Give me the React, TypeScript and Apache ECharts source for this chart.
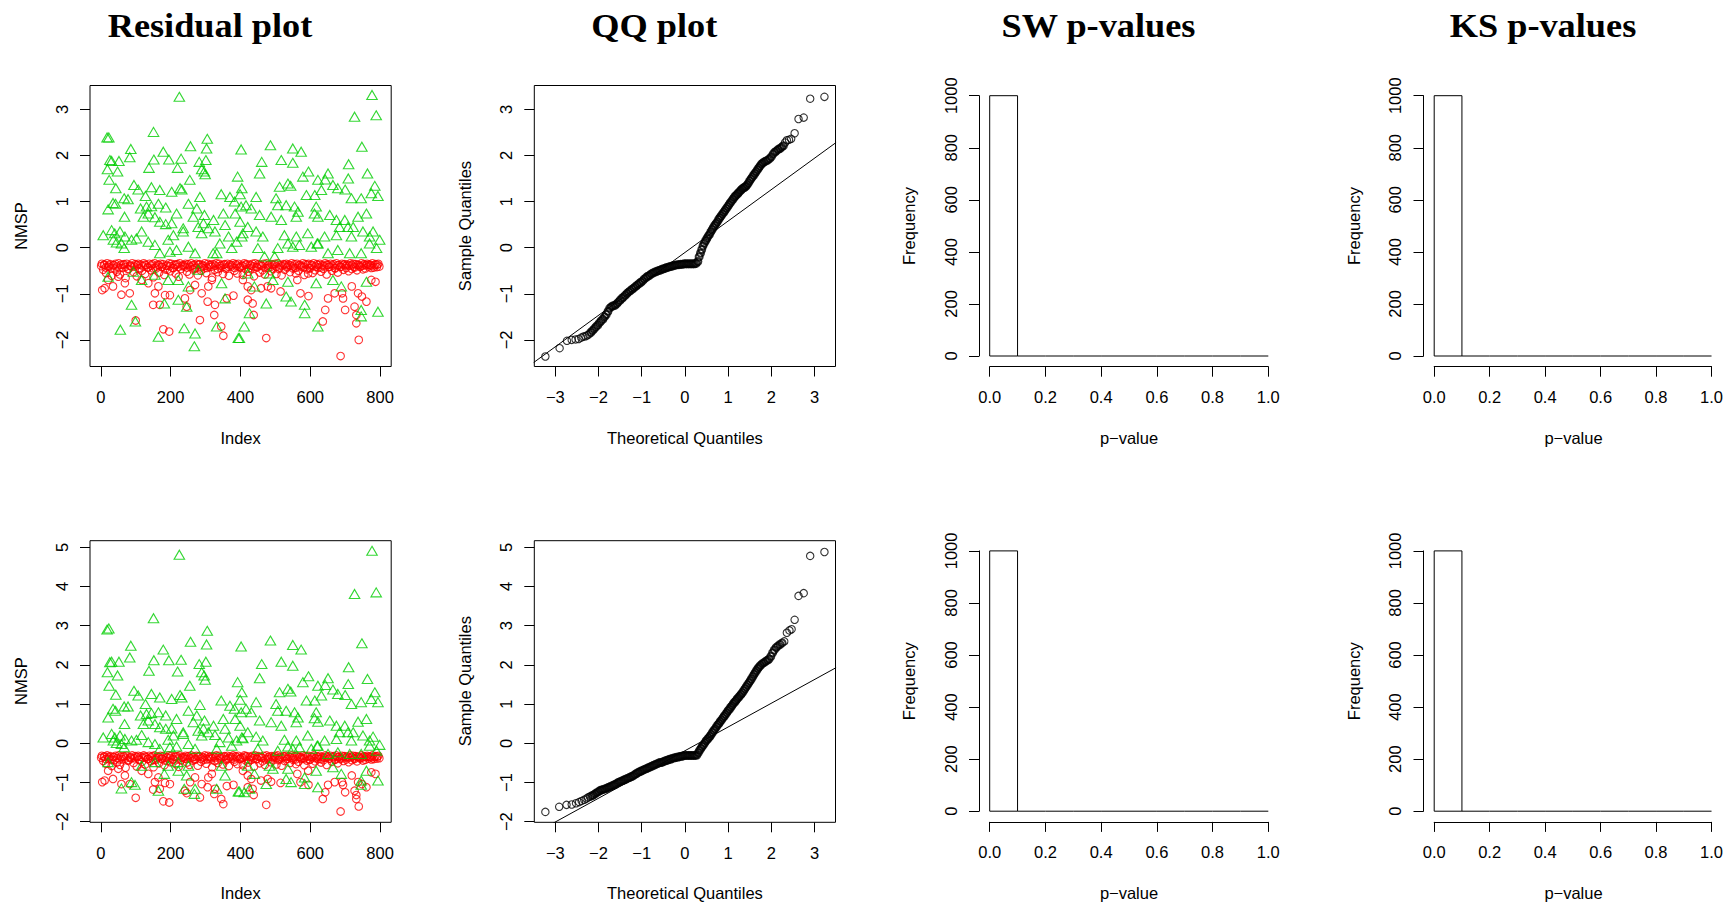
import React, { useEffect, useRef } from "react";
import * as echarts from "echarts";

const W = 1726;
const H = 904;

// ---------- Residual plot (top row) ----------
const greenTop: number[][] = [
  [225,3.27],[18,2.39],[23,2.39],[151,2.51],[86,2.14],[179,2.08],[257,2.2],[305,2.36],[303,2.15],[83,1.96],
  [26,1.9],[31,1.88],[52,1.88],[152,1.91],[195,1.91],[230,1.93],[282,1.86],[301,1.9],[138,1.73],[220,1.73],
  [289,1.7],[296,1.65],[299,1.59],[19,1.7],[48,1.65],[24,1.47],[255,1.47],[43,1.29],[95,1.36],[107,1.26],
  [145,1.31],[169,1.25],[203,1.21],[227,1.29],[232,1.26],[284,1.1],[345,1.16],[370,1.1],[399,1.16],[67,1.07],
  [78,1.05],[128,1.12],[35,0.97],[42,0.95],[21,0.83],[114,0.85],[131,0.89],[145,0.9],[165,0.95],[186,0.87],
  [251,0.95],[275,0.85],[297,0.71],[383,1.0],[217,0.74],[68,0.67],[122,0.67],[136,0.74],[155,0.66],[169,0.56],
  [186,0.51],[203,0.53],[236,0.42],[265,0.67],[279,0.45],[294,0.53],[323,0.6],[351,0.74],[356,0.49],[385,0.74],
  [399,0.56],[7,0.27],[31,0.38],[40,0.31],[55,0.35],[69,0.24],[88,0.17],[102,0.2],[117,0.35],[136,0.13],
  [155,0.06],[36,0.17],[45,0.11],[59,0.09],[67,-0.01],[169,-0.12],[198,-0.09],[217,-0.05],[193,0.17],[208,0.27],
  [236,0.35],[270,-0.12],[289,0.31],[308,0.42],[327,0.35],[332,-0.12],[341,0.09],[366,0.24],[375,-0.01],[389,0.13],
  [404,0.24],[251,0.02],[21,-0.63],[88,-1.24],[99,-1.6],[56,-1.78],[165,-1.93],[268,-2.14],[239,-1.75],[270,-1.86],
  [182,-1.21],[222,-1.13],[246,-1.28],[222,-0.7],[251,-0.84],[117,-0.7],[155,-0.59],[193,-0.7],[346,-0.77],[356,-1.1],
  [332,-1.71],[394,-1.96],[93,-0.52],[279,-0.48],[322,-0.12],
  [777,3.31],[727,2.84],[789,2.87],[486,2.22],[402,2.13],[550,2.15],[574,2.08],[748,2.19],[461,1.86],[517,1.9],
  [550,1.84],[455,1.61],[710,1.81],[764,1.61],[595,1.65],[651,1.61],[579,1.54],[709,1.5],[785,1.34],[794,1.12],
  [512,1.32],[536,1.39],[544,1.34],[622,1.47],[643,1.48],[665,1.36],[679,1.29],[589,1.14],[613,1.14],[632,1.25],
  [700,1.26],[718,1.07],[746,1.07],[775,1.18],[404,1.29],[392,1.54],[416,0.92],[431,0.85],[445,1.1],[502,1.07],
  [507,0.92],[531,0.92],[555,0.89],[565,0.78],[560,0.67],[617,0.89],[612,0.74],[622,0.67],[656,0.71],[675,0.6],
  [699,0.6],[708,0.45],[737,0.67],[761,0.74],[455,0.71],[488,0.67],[517,0.6],[402,0.89],[421,0.45],[407,0.31],
  [445,0.35],[464,0.24],[526,0.27],[536,0.09],[560,0.24],[569,0.06],[593,0.31],[620,0.09],[641,0.24],[684,0.45],
  [675,0.27],[718,0.24],[723,0.45],[751,0.35],[770,0.24],[780,0.35],[799,0.17],[790,-0.01],[450,-0.01],[507,-0.01],
  [550,0.02],[603,0.02],[622,0.09],[651,-0.12],[679,-0.05],[713,-0.12],[746,-0.12],[770,0.09],[469,-0.19],[498,-0.19],
  [421,-0.56],[440,-0.84],[474,-1.21],[426,-1.42],[411,-1.71],[536,-0.74],[531,-1.06],[545,-1.17],[584,-1.24],[584,-1.42],
  [617,-0.77],[622,-1.71],[665,-0.7],[689,-0.84],[746,-1.35],[746,-1.49],[794,-1.39],[761,-0.74],[397,-1.96],[483,-0.56],
  [493,-0.7]
];

const redTopOut: number[][] = [
  [4,-0.92],[11,-0.88],[35,-0.84],[59,-1.02],[83,-0.99],[150,-1.24],[169,-1.24],[155,-0.99],[184,-1.03],[198,-1.03],
  [165,-0.84],[241,-1.1],[246,-1.28],[256,-0.92],[270,-0.81],[289,-0.99],[306,-1.17],[327,-1.24],[325,-1.46],[284,-1.57],
  [100,-1.58],[179,-1.77],[196,-1.82],[345,-1.71],[351,-1.91],[380,-1.04],[361,-1.1],[318,-0.7],[308,-0.84],[136,-0.77],
  [117,-0.7],[69,-0.77],[21,-0.7],[50,-0.63],[474,-1.96],[687,-2.35],[739,-2.0],[421,-1.13],[435,-1.21],[438,-1.46],
  [459,-0.88],[478,-0.84],[488,-0.88],[515,-0.95],[563,-0.7],[594,-0.56],[572,-0.99],[595,-1.05],[636,-1.6],[643,-1.35],
  [651,-1.1],[670,-0.99],[691,-0.99],[694,-1.1],[700,-1.35],[732,-1.46],[732,-1.64],[727,-1.28],[719,-0.84],[737,-0.99],
  [748,-1.06],[761,-1.17],[775,-0.7],[787,-0.74],[407,-0.7],[421,-0.84],[431,-0.92]
];

// indices of the dense band of red circles (three rows)
const bandIdxA = [
  3,11,18,27,35,42,51,58,67,74, 83,90,99,107,114,123,130,139,147,154,
  163,171,178,187,195,202,211,219,226,235, 243,250,259,267,274,283,291,298,307,315,
  322,331,339,346,355,363,370,379,387,394, 403,411,418,427,435,442,451,459,466,475,
  483,490,499,507,514,523,531,538,547,555, 562,571,579,586,595,603,610,619,627,634,
  643,651,658,667,675,682,691,699,706,715, 723,730,739,747,754,763,771,778,787,795
];
const bandIdxB = [
  7,15,22,31,39,46,55,62,71,78, 87,94,103,111,118,127,134,143,151,158,
  167,175,182,191,199,206,215,223,230,239, 247,254,263,271,278,287,295,302,311,319,
  326,335,343,350,359,367,374,383,391,398, 407,415,422,431,439,446,455,463,470,479,
  487,494,503,511,518,527,535,542,551,559, 566,575,583,590,599,607,614,623,631,638,
  647,655,662,671,679,686,695,703,710,719, 727,734,743,751,758,767,775,782,791,798
];
const bandIdxC = [
  1,9,14,24,31,38,47,54,64,70, 80,86,96,104,110,120,127,135,144,150,
  160,167,175,184,191,198,208,215,222,232, 240,246,256,263,270,280,287,294,304,311,
  318,328,335,342,352,359,366,376,383,390, 400,407,414,424,431,438,448,455,462,472,
  479,486,496,503,510,520,527,534,544,551, 558,568,575,582,592,599,606,616,623,630,
  640,647,654,664,671,678,688,695,702,712, 719,726,736,743,750,760,767,774,784,792
];
const bandTopA = [
  -0.35,-0.37,-0.34,-0.36,-0.38,-0.35,-0.34,-0.37,-0.36,-0.35,
  -0.39,-0.34,-0.36,-0.35,-0.37,-0.34,-0.38,-0.35,-0.36,-0.34,
  -0.37,-0.35,-0.36,-0.39,-0.34,-0.35,-0.37,-0.36,-0.34,-0.38,
  -0.35,-0.36,-0.34,-0.37,-0.35,-0.36,-0.38,-0.34,-0.35,-0.37,
  -0.36,-0.34,-0.35,-0.38,-0.36,-0.35,-0.37,-0.34,-0.36,-0.35,
  -0.39,-0.34,-0.36,-0.37,-0.35,-0.34,-0.36,-0.38,-0.35,-0.34,
  -0.37,-0.36,-0.35,-0.34,-0.38,-0.36,-0.35,-0.37,-0.34,-0.36,
  -0.35,-0.38,-0.34,-0.36,-0.35,-0.37,-0.34,-0.36,-0.35,-0.38,
  -0.34,-0.37,-0.35,-0.36,-0.34,-0.38,-0.35,-0.36,-0.37,-0.34,
  -0.35,-0.36,-0.38,-0.34,-0.36,-0.35,-0.37,-0.34,-0.36,-0.35
];
const bandTopB = [
  -0.48,-0.55,-0.42,-0.61,-0.45,-0.52,-0.58,-0.44,-0.66,-0.47,
  -0.41,-0.53,-0.62,-0.46,-0.5,-0.57,-0.43,-0.49,-0.64,-0.45,
  -0.54,-0.42,-0.59,-0.48,-0.51,-0.44,-0.56,-0.63,-0.46,-0.41,
  -0.52,-0.58,-0.47,-0.43,-0.6,-0.5,-0.45,-0.55,-0.42,-0.65,
  -0.48,-0.53,-0.44,-0.57,-0.46,-0.61,-0.41,-0.5,-0.56,-0.43,
  -0.59,-0.47,-0.52,-0.45,-0.62,-0.42,-0.54,-0.49,-0.58,-0.44,
  -0.51,-0.46,-0.57,-0.43,-0.6,-0.48,-0.41,-0.53,-0.45,-0.56,
  -0.5,-0.42,-0.59,-0.47,-0.44,-0.55,-0.49,-0.43,-0.52,-0.46,
  -0.58,-0.41,-0.5,-0.45,-0.54,-0.42,-0.48,-0.44,-0.51,-0.46,
  -0.43,-0.49,-0.42,-0.47,-0.45,-0.41,-0.44,-0.43,-0.42,-0.41
];
const bandTopC = [
  -0.4,-0.37,-0.43,-0.39,-0.45,-0.38,-0.41,-0.44,-0.37,-0.42,
  -0.46,-0.39,-0.41,-0.38,-0.44,-0.4,-0.37,-0.43,-0.39,-0.45,
  -0.41,-0.38,-0.42,-0.47,-0.39,-0.4,-0.44,-0.37,-0.42,-0.4,
  -0.38,-0.43,-0.41,-0.39,-0.45,-0.37,-0.42,-0.4,-0.44,-0.38,
  -0.41,-0.39,-0.46,-0.4,-0.37,-0.43,-0.41,-0.38,-0.44,-0.39,
  -0.42,-0.4,-0.37,-0.45,-0.39,-0.41,-0.43,-0.38,-0.4,-0.44,
  -0.39,-0.42,-0.38,-0.41,-0.46,-0.4,-0.37,-0.43,-0.39,-0.41,
  -0.44,-0.38,-0.4,-0.42,-0.37,-0.45,-0.39,-0.41,-0.38,-0.43,
  -0.4,-0.37,-0.42,-0.39,-0.44,-0.38,-0.41,-0.37,-0.4,-0.39,
  -0.38,-0.41,-0.37,-0.4,-0.39,-0.38,-0.37,-0.39,-0.38,-0.37
];

// ---------- Residual plot (bottom row) ----------
const greenBot: number[][] = [
  [225,4.81],[18,2.9],[23,2.93],[151,3.19],[86,2.49],[83,2.19],[179,2.39],[257,2.59],[305,2.87],[303,2.52],
  [26,2.07],[31,2.08],[52,2.08],[152,2.12],[195,2.12],[230,2.13],[282,2.02],[301,2.08],[138,1.85],[220,1.83],
  [289,1.81],[296,1.73],[299,1.62],[19,1.81],[48,1.73],[24,1.47],[255,1.47],[43,1.24],[95,1.34],[107,1.22],
  [145,1.26],[169,1.17],[203,1.13],[227,1.23],[232,1.17],[284,0.98],[345,1.09],[370,0.96],[399,1.11],[67,0.94],
  [78,0.94],[128,1.0],[35,0.88],[42,0.83],[21,0.66],[114,0.71],[131,0.75],[145,0.77],[165,0.79],[186,0.71],
  [251,0.83],[275,0.71],[297,0.58],[383,0.88],[217,0.62],[68,0.49],[122,0.49],[136,0.58],[155,0.49],[169,0.41],
  [186,0.37],[203,0.38],[236,0.28],[265,0.54],[279,0.32],[294,0.38],[323,0.45],[351,0.62],[356,0.37],[385,0.62],
  [399,0.45],[7,0.15],[31,0.24],[40,0.15],[55,0.2],[69,0.11],[88,0.07],[102,0.09],[117,0.21],[136,0.03],
  [155,-0.02],[36,0.07],[45,0.01],[59,-0.02],[67,-0.1],[169,-0.14],[198,-0.1],[217,-0.08],[193,0.09],[208,0.2],
  [236,0.24],[270,-0.14],[289,0.2],[308,0.28],[327,0.21],[332,-0.14],[341,0.03],[366,0.15],[375,-0.06],[389,0.07],
  [404,0.15],[251,-0.02],[59,-1.15],[98,-1.06],[165,-1.21],[268,-1.29],[239,-1.16],[270,-1.16],[182,-0.78],[222,-0.7],
  [246,-0.82],[117,-0.57],[155,-0.48],[193,-0.57],[222,-0.48],[251,-0.57],[346,-0.57],[356,-0.82],[332,-1.16],[394,-1.23],
  [21,-0.48],[88,-0.99],
  [777,4.91],[727,3.81],[789,3.85],[486,2.62],[402,2.47],[550,2.51],[574,2.39],[748,2.55],[461,2.02],[517,2.08],
  [550,1.98],[455,1.66],[710,1.94],[764,1.64],[595,1.71],[651,1.66],[579,1.56],[709,1.51],[785,1.3],[794,1.05],
  [512,1.3],[536,1.39],[544,1.32],[622,1.47],[643,1.49],[665,1.37],[679,1.26],[589,1.09],[613,1.09],[632,1.22],
  [700,1.23],[718,1.0],[746,1.05],[775,1.13],[404,1.3],[392,1.56],[416,0.88],[431,0.79],[445,1.05],[502,1.0],
  [507,0.83],[531,0.83],[555,0.79],[565,0.66],[560,0.54],[617,0.79],[612,0.64],[622,0.55],[656,0.58],[675,0.45],
  [699,0.45],[708,0.28],[737,0.55],[761,0.62],[455,0.58],[488,0.54],[517,0.45],[402,0.79],[421,0.28],[407,0.13],
  [445,0.17],[464,0.07],[526,0.09],[536,-0.08],[560,0.07],[569,-0.1],[593,0.2],[620,-0.06],[641,0.07],[684,0.28],
  [675,0.11],[718,0.07],[723,0.28],[751,0.2],[770,0.07],[780,0.17],[799,-0.04],[790,-0.19],[450,-0.14],[507,-0.19],
  [550,-0.14],[603,-0.14],[622,-0.06],[651,-0.27],[679,-0.23],[713,-0.27],[746,-0.27],[770,-0.06],
  [421,-0.57],[440,-0.78],[474,-1.04],[426,-1.16],[411,-1.25],[536,-0.65],[531,-0.91],[545,-0.99],[584,-0.87],[584,-1.04],
  [617,-0.7],[622,-1.12],[665,-0.61],[689,-0.78],[746,-0.95],[746,-1.06],[794,-0.95],[761,-0.7],[397,-1.23],[483,-0.57],
  [493,-0.65]
];

const redBotOut: number[][] = [
  [4,-0.99],[11,-0.95],[35,-0.91],[59,-1.04],[83,-1.04],[150,-1.18],[169,-1.16],[155,-0.99],[184,-1.01],[198,-1.04],
  [165,-0.87],[241,-1.21],[246,-1.27],[256,-0.99],[270,-0.87],[289,-1.04],[306,-1.12],[327,-1.16],[325,-1.29],[284,-1.38],
  [100,-1.39],[179,-1.48],[196,-1.51],[345,-1.42],[351,-1.55],[380,-1.06],[361,-1.09],[318,-0.78],[308,-0.87],[136,-0.78],
  [117,-0.7],[69,-0.82],[21,-0.7],[50,-0.65],[474,-1.57],[687,-1.74],[739,-1.61],[421,-1.12],[435,-1.16],[438,-1.32],
  [459,-0.95],[478,-0.91],[488,-0.98],[515,-1.01],[563,-0.78],[594,-0.7],[572,-0.99],[595,-1.06],[636,-1.42],[643,-1.25],
  [651,-1.06],[670,-0.99],[691,-0.99],[694,-1.06],[700,-1.25],[732,-1.32],[732,-1.42],[727,-1.21],[719,-0.82],[737,-0.99],
  [748,-1.04],[761,-1.12],[775,-0.74],[787,-0.78],[407,-0.7],[421,-0.82],[431,-0.91]
];
const bandBotA = [
  -0.32,-0.34,-0.31,-0.33,-0.35,-0.32,-0.31,-0.34,-0.33,-0.32,
  -0.36,-0.31,-0.33,-0.32,-0.34,-0.31,-0.35,-0.32,-0.33,-0.31,
  -0.34,-0.32,-0.33,-0.36,-0.31,-0.32,-0.34,-0.33,-0.31,-0.35,
  -0.32,-0.33,-0.31,-0.34,-0.32,-0.33,-0.35,-0.31,-0.32,-0.34,
  -0.33,-0.31,-0.32,-0.35,-0.33,-0.32,-0.34,-0.31,-0.33,-0.32,
  -0.36,-0.31,-0.33,-0.34,-0.32,-0.31,-0.33,-0.35,-0.32,-0.31,
  -0.34,-0.33,-0.32,-0.31,-0.35,-0.33,-0.32,-0.34,-0.31,-0.33,
  -0.32,-0.35,-0.31,-0.33,-0.32,-0.34,-0.31,-0.33,-0.32,-0.35,
  -0.31,-0.34,-0.32,-0.33,-0.31,-0.35,-0.32,-0.33,-0.34,-0.31,
  -0.32,-0.33,-0.35,-0.31,-0.33,-0.32,-0.34,-0.31,-0.33,-0.32
];
const bandBotB = [
  -0.45,-0.52,-0.4,-0.58,-0.43,-0.49,-0.55,-0.41,-0.62,-0.44,
  -0.39,-0.5,-0.59,-0.43,-0.47,-0.54,-0.4,-0.46,-0.61,-0.42,
  -0.51,-0.4,-0.56,-0.45,-0.48,-0.41,-0.53,-0.6,-0.43,-0.39,
  -0.49,-0.55,-0.44,-0.4,-0.57,-0.47,-0.42,-0.52,-0.4,-0.61,
  -0.45,-0.5,-0.41,-0.54,-0.43,-0.58,-0.39,-0.47,-0.53,-0.4,
  -0.56,-0.44,-0.49,-0.42,-0.59,-0.4,-0.51,-0.46,-0.55,-0.41,
  -0.48,-0.43,-0.54,-0.4,-0.57,-0.45,-0.39,-0.5,-0.42,-0.53,
  -0.47,-0.4,-0.56,-0.44,-0.41,-0.52,-0.46,-0.4,-0.49,-0.43,
  -0.55,-0.39,-0.47,-0.42,-0.51,-0.4,-0.45,-0.41,-0.48,-0.43,
  -0.4,-0.46,-0.39,-0.44,-0.42,-0.39,-0.41,-0.4,-0.39,-0.38
];
const bandBotC = [
  -0.37,-0.34,-0.4,-0.36,-0.42,-0.35,-0.38,-0.41,-0.34,-0.39,
  -0.43,-0.36,-0.38,-0.35,-0.41,-0.37,-0.34,-0.4,-0.36,-0.42,
  -0.38,-0.35,-0.39,-0.44,-0.36,-0.37,-0.41,-0.34,-0.39,-0.37,
  -0.35,-0.4,-0.38,-0.36,-0.42,-0.34,-0.39,-0.37,-0.41,-0.35,
  -0.38,-0.36,-0.43,-0.37,-0.34,-0.4,-0.38,-0.35,-0.41,-0.36,
  -0.39,-0.37,-0.34,-0.42,-0.36,-0.38,-0.4,-0.35,-0.37,-0.41,
  -0.36,-0.39,-0.35,-0.38,-0.43,-0.37,-0.34,-0.4,-0.36,-0.38,
  -0.41,-0.35,-0.37,-0.39,-0.34,-0.42,-0.36,-0.38,-0.35,-0.4,
  -0.37,-0.34,-0.39,-0.36,-0.41,-0.35,-0.38,-0.34,-0.37,-0.36,
  -0.35,-0.38,-0.34,-0.37,-0.36,-0.35,-0.34,-0.36,-0.35,-0.34
];

// ---------- QQ plots: [theoretical quantile, sample quantile] ----------
const qqTop: number[][] = [
  [-3.23,-2.36],[-2.9,-2.18],[-2.73,-2.02],[-2.62,-2.0],[-2.53,-1.99],[-2.46,-1.98],[-2.4,-1.95],[-2.35,-1.93],[-2.3,-1.92],[-2.26,-1.9],
  [-2.22,-1.88],[-2.18,-1.84],[-2.14,-1.8],[-2.1,-1.76],[-2.06,-1.72],[-2.02,-1.68],[-1.98,-1.63],[-1.94,-1.59],[-1.9,-1.55],[-1.86,-1.5],
  [-1.82,-1.45],[-1.78,-1.38],[-1.74,-1.31],[-1.7,-1.28],[-1.66,-1.26],[-1.62,-1.25],[-1.58,-1.22],[-1.54,-1.18],[-1.5,-1.14],[-1.46,-1.1],
  [-1.42,-1.07],[-1.38,-1.03],[-1.34,-0.99],[-1.3,-0.96],[-1.26,-0.93],[-1.22,-0.9],[-1.18,-0.87],[-1.14,-0.84],[-1.1,-0.81],[-1.06,-0.78],
  [-1.02,-0.75],[-0.98,-0.72],[-0.94,-0.68],[-0.9,-0.65],[-0.86,-0.62],[-0.82,-0.6],[-0.78,-0.57],[-0.74,-0.55],[-0.7,-0.53],[-0.66,-0.52],
  [-0.62,-0.5],[-0.58,-0.49],[-0.54,-0.47],[-0.5,-0.46],[-0.46,-0.45],[-0.42,-0.43],[-0.38,-0.42],[-0.34,-0.41],[-0.3,-0.4],[-0.26,-0.39],
  [-0.22,-0.38],[-0.18,-0.37],[-0.14,-0.37],[-0.1,-0.36],[-0.06,-0.36],[-0.02,-0.35],[0.02,-0.35],[0.06,-0.35],[0.1,-0.35],[0.14,-0.35],
  [0.18,-0.35],[0.22,-0.35],[0.26,-0.34],[0.3,-0.3],[0.33,-0.2],[0.36,-0.12],[0.39,-0.04],[0.42,0.04],[0.45,0.1],[0.48,0.15],
  [0.51,0.2],[0.54,0.25],[0.57,0.29],[0.6,0.34],[0.63,0.39],[0.66,0.44],[0.69,0.48],[0.72,0.52],[0.75,0.56],[0.78,0.61],
  [0.81,0.65],[0.84,0.69],[0.87,0.73],[0.9,0.77],[0.93,0.81],[0.96,0.85],[0.99,0.89],[1.02,0.93],[1.05,0.97],[1.08,1.01],
  [1.11,1.05],[1.14,1.09],[1.17,1.12],[1.2,1.15],[1.23,1.18],[1.26,1.21],[1.29,1.24],[1.32,1.27],[1.35,1.29],[1.38,1.31],
  [1.41,1.33],[1.44,1.36],[1.47,1.4],[1.5,1.45],[1.53,1.49],[1.56,1.53],[1.59,1.57],[1.62,1.61],[1.65,1.65],[1.68,1.69],
  [1.71,1.73],[1.74,1.77],[1.77,1.81],[1.8,1.84],[1.84,1.86],[1.88,1.88],[1.92,1.9],[1.96,1.93],[2.0,1.97],[2.04,2.03],
  [2.08,2.07],[2.12,2.1],[2.16,2.13],[2.2,2.15],[2.24,2.18],[2.28,2.21],[2.32,2.28],[2.36,2.33],[2.41,2.34],[2.46,2.36],
  [2.54,2.48],[2.63,2.79],[2.75,2.82],[2.9,3.23],[3.23,3.27]
];
const qqLineTop: number[][] = [[-3.5,-2.49],[3.5,2.28]];

const qqBot: number[][] = [
  [-3.23,-1.75],[-2.91,-1.62],[-2.74,-1.57],[-2.62,-1.56],[-2.52,-1.53],[-2.45,-1.5],[-2.39,-1.47],[-2.33,-1.44],[-2.28,-1.41],[-2.24,-1.38],
  [-2.2,-1.36],[-2.16,-1.34],[-2.12,-1.32],[-2.08,-1.29],[-2.04,-1.26],[-2.0,-1.23],[-1.96,-1.2],[-1.92,-1.19],[-1.88,-1.17],[-1.84,-1.16],
  [-1.8,-1.14],[-1.76,-1.12],[-1.72,-1.1],[-1.68,-1.08],[-1.64,-1.06],[-1.6,-1.04],[-1.56,-1.01],[-1.52,-0.99],[-1.48,-0.97],[-1.44,-0.95],
  [-1.4,-0.93],[-1.36,-0.91],[-1.32,-0.89],[-1.28,-0.87],[-1.24,-0.85],[-1.2,-0.83],[-1.16,-0.8],[-1.12,-0.77],[-1.08,-0.74],[-1.04,-0.72],
  [-1.0,-0.7],[-0.96,-0.68],[-0.92,-0.66],[-0.88,-0.64],[-0.84,-0.62],[-0.8,-0.6],[-0.76,-0.58],[-0.72,-0.56],[-0.68,-0.54],[-0.64,-0.52],
  [-0.6,-0.5],[-0.56,-0.49],[-0.52,-0.48],[-0.48,-0.46],[-0.44,-0.44],[-0.4,-0.43],[-0.36,-0.41],[-0.32,-0.4],[-0.28,-0.38],[-0.24,-0.37],
  [-0.2,-0.36],[-0.16,-0.35],[-0.12,-0.34],[-0.08,-0.33],[-0.04,-0.32],[0.0,-0.31],[0.04,-0.31],[0.08,-0.31],[0.12,-0.31],[0.16,-0.31],
  [0.2,-0.31],[0.24,-0.31],[0.28,-0.3],[0.31,-0.24],[0.34,-0.18],[0.37,-0.13],[0.4,-0.08],[0.43,-0.04],[0.46,0.01],[0.49,0.06],
  [0.52,0.1],[0.55,0.14],[0.58,0.18],[0.61,0.23],[0.64,0.28],[0.67,0.33],[0.7,0.37],[0.73,0.42],[0.76,0.47],[0.79,0.51],
  [0.82,0.56],[0.85,0.6],[0.88,0.65],[0.91,0.69],[0.94,0.74],[0.97,0.78],[1.0,0.83],[1.03,0.87],[1.06,0.92],[1.09,0.96],
  [1.12,1.01],[1.15,1.05],[1.18,1.09],[1.21,1.13],[1.24,1.17],[1.27,1.21],[1.3,1.25],[1.33,1.29],[1.36,1.34],[1.39,1.39],
  [1.42,1.44],[1.45,1.49],[1.48,1.54],[1.51,1.59],[1.54,1.64],[1.57,1.7],[1.6,1.76],[1.63,1.81],[1.66,1.86],[1.69,1.91],
  [1.72,1.95],[1.75,1.99],[1.79,2.03],[1.83,2.06],[1.87,2.09],[1.91,2.12],[1.95,2.15],[1.99,2.22],[2.03,2.31],[2.07,2.38],
  [2.11,2.44],[2.15,2.48],[2.2,2.52],[2.25,2.56],[2.3,2.6],[2.36,2.82],[2.42,2.88],[2.47,2.91],[2.54,3.15],[2.63,3.76],
  [2.75,3.83],[2.9,4.78],[3.23,4.88]
];
const qqLineBot: number[][] = [[-3.5,-2.31],[3.5,1.93]];

// ---------- Histograms of p-values ----------
const binEdges = [0, 0.1, 0.2, 0.3, 0.4, 0.5, 0.6, 0.7, 0.8, 0.9, 1.0];
const swCountsTop = [1000, 0, 0, 0, 0, 0, 0, 0, 0, 0];
const ksCountsTop = [1000, 0, 0, 0, 0, 0, 0, 0, 0, 0];
const swCountsBot = [1000, 0, 0, 0, 0, 0, 0, 0, 0, 0];
const ksCountsBot = [1000, 0, 0, 0, 0, 0, 0, 0, 0, 0];

// ---------- tick labels ----------
const indexTicks = [0, 200, 400, 600, 800];
const resTicksTop = [-2, -1, 0, 1, 2, 3];
const resTicksBot = [-2, -1, 0, 1, 2, 3, 4, 5];
const qqXTicks = [-3, -2, -1, 0, 1, 2, 3];

const titles = ["Residual plot", "QQ plot", "SW p-values", "KS p-values"];

const GREEN = "#00CD00";
const RED = "#FF0000";
const SANS = "'Liberation Sans', Arial, Helvetica, sans-serif";
const SERIF = "'Liberation Serif', 'Times New Roman', serif";
const FS = 16.5;

const fmtMinus = (v: number) => (v < 0 ? "\u2212" + Math.abs(v) : String(v));

function buildOption() {
  const grid: any[] = [];
  const xAxis: any[] = [];
  const yAxis: any[] = [];
  const series: any[] = [];
  const graphic: any[] = [];

  const ROW = [0, 455.2];
  const COL = [90, 534.3, 978.5, 1423];
  const BOX_TOP = 85.5;
  const BOX_H = [281, 281.6];
  const BOX_W = 301.2;

  const tick = { show: true, length: 10, lineStyle: { color: "#000", width: 1 } };
  const lab = { color: "#000", fontSize: FS, fontFamily: SANS };

  const boxPanel = (
    r: number, c: number, xmin: number, xmax: number, ymin: number, ymax: number,
    xt: number[], yt: number[], xfmt: (v: number) => string
  ) => {
    const gi = grid.length;
    grid.push({
      left: COL[c], top: BOX_TOP + ROW[r], width: BOX_W, height: BOX_H[r],
      show: true, borderColor: "#000", borderWidth: 1, backgroundColor: "transparent",
    });
    xAxis.push({
      type: "value", gridIndex: gi, min: xmin, max: xmax, position: "bottom",
      axisLine: { show: false, onZero: false }, splitLine: { show: false },
      axisTick: { ...tick, customValues: xt },
      axisLabel: { ...lab, margin: 22, customValues: xt, formatter: xfmt },
    });
    yAxis.push({
      type: "value", gridIndex: gi, min: ymin, max: ymax, position: "left",
      axisLine: { show: false, onZero: false }, splitLine: { show: false },
      axisTick: { ...tick, customValues: yt },
      axisLabel: { ...lab, margin: 20, rotate: 90, customValues: yt, formatter: fmtMinus },
    });
    return gi;
  };

  const histPanel = (r: number, c: number, counts: number[]) => {
    const gi = grid.length;
    const left = COL[c] + 11.2;
    grid.push({ left, top: 95.7 + ROW[r], width: 278.6, height: 260.3, show: false });
    xAxis.push({
      type: "value", gridIndex: gi, min: 0, max: 1, interval: 0.2, offset: 10.7, position: "bottom",
      axisLine: { show: true, onZero: false, lineStyle: { color: "#000", width: 1 } },
      splitLine: { show: false }, axisTick: tick,
      axisLabel: { ...lab, margin: 22, formatter: (v: number) => v.toFixed(1) },
    });
    yAxis.push({
      type: "value", gridIndex: gi, min: 0, max: 1000, interval: 200, offset: 10.7, position: "left",
      axisLine: { show: true, onZero: false, lineStyle: { color: "#000", width: 1 } },
      splitLine: { show: false }, axisTick: tick,
      axisLabel: { ...lab, margin: 20, rotate: 90, formatter: (v: number) => String(v) },
    });
    series.push({
      type: "custom", xAxisIndex: gi, yAxisIndex: gi, silent: true, clip: false,
      data: counts.map((n, i) => [binEdges[i], binEdges[i + 1], n]),
      encode: { x: [0, 1], y: 2 },
      renderItem: (_p: any, api: any) => {
        const a = api.coord([api.value(0), 0]);
        const b = api.coord([api.value(1), api.value(2)]);
        if (api.value(2) > 0) {
          return {
            type: "rect",
            shape: { x: a[0], y: b[1], width: b[0] - a[0], height: a[1] - b[1] },
            style: { fill: "#fff", stroke: "#000", lineWidth: 1 },
          };
        }
        return {
          type: "line",
          shape: { x1: a[0], y1: a[1], x2: b[0], y2: a[1] },
          style: { stroke: "#000", lineWidth: 1 },
        };
      },
    });
    return gi;
  };

  const band = (idx: number[], vals: number[]) => idx.map((x, i) => [x, vals[i]]);

  const resData = [
    {
      green: greenTop,
      red: [...band(bandIdxB, bandTopB), ...band(bandIdxC, bandTopC), ...band(bandIdxA, bandTopA), ...redTopOut],
      y: [-2.577, 3.516], t: resTicksTop,
    },
    {
      green: greenBot,
      red: [...band(bandIdxB, bandBotB), ...band(bandIdxC, bandBotC), ...band(bandIdxA, bandBotA), ...redBotOut],
      y: [-2.015, 5.168], t: resTicksBot,
    },
  ];
  const qqData = [
    { pts: qqTop, line: qqLineTop },
    { pts: qqBot, line: qqLineBot },
  ];
  const hist = [
    [swCountsTop, ksCountsTop],
    [swCountsBot, ksCountsBot],
  ];

  for (let r = 0; r < 2; r++) {
    const rd = resData[r];
    // residual plot
    const g0 = boxPanel(r, 0, -30.96, 831.96, rd.y[0], rd.y[1], indexTicks, rd.t, (v) => String(v));
    series.push({
      type: "scatter", xAxisIndex: g0, yAxisIndex: g0, silent: true,
      data: rd.red, symbol: "circle", symbolSize: 7.6,
      itemStyle: { color: "transparent", borderColor: RED, borderWidth: 1.1 },
    });
    series.push({
      type: "scatter", xAxisIndex: g0, yAxisIndex: g0, silent: true,
      data: rd.green, symbol: "triangle", symbolSize: [10.5, 9],
      itemStyle: { color: "transparent", borderColor: GREEN, borderWidth: 1.1 },
    });
    // QQ plot: sparse tails drawn thin, dense body drawn with a heavier stroke
    const pts = qqData[r].pts;
    const g1 = boxPanel(r, 1, -3.486, 3.486, rd.y[0], rd.y[1], qqXTicks, rd.t, fmtMinus);
    const dense = pts.filter((p) => p[0] > -2.2 && p[0] < 2.3);
    const sparse = pts.filter((p) => !(p[0] > -2.2 && p[0] < 2.3));
    series.push({
      type: "scatter", xAxisIndex: g1, yAxisIndex: g1, silent: true,
      data: sparse, symbol: "circle", symbolSize: 7.4,
      itemStyle: { color: "transparent", borderColor: "#000", borderWidth: 1.1 },
    });
    series.push({
      type: "scatter", xAxisIndex: g1, yAxisIndex: g1, silent: true,
      data: dense, symbol: "circle", symbolSize: 7,
      itemStyle: { color: "transparent", borderColor: "#000", borderWidth: 2 },
    });
    series.push({
      type: "line", xAxisIndex: g1, yAxisIndex: g1, silent: true, clip: true,
      data: qqData[r].line, symbol: "none",
      lineStyle: { color: "#000", width: 1 },
    });
    // histograms
    histPanel(r, 2, hist[r][0]);
    histPanel(r, 3, hist[r][1]);

    // axis titles
    const yc = 226 + ROW[r];
    const xl = 437.5 + ROW[r];
    const names = [
      { x: "Index", y: "NMSP", cx: COL[0] + BOX_W / 2 },
      { x: "Theoretical Quantiles", y: "Sample Quantiles", cx: COL[1] + BOX_W / 2 },
      { x: "p\u2212value", y: "Frequency", cx: COL[2] + 11.2 + 139.3 },
      { x: "p\u2212value", y: "Frequency", cx: COL[3] + 11.2 + 139.3 },
    ];
    names.forEach((n, c) => {
      graphic.push({
        type: "text", x: n.cx, y: xl, silent: true,
        style: { text: n.x, fill: "#000", fontSize: FS, fontFamily: SANS, align: "center", verticalAlign: "middle" },
      });
      graphic.push({
        type: "text", x: COL[c] - 69.5, y: yc, rotation: Math.PI / 2, silent: true,
        style: { text: n.y, fill: "#000", fontSize: FS, fontFamily: SANS, align: "center", verticalAlign: "middle" },
      });
    });
  }

  titles.forEach((t, c) => {
    graphic.push({
      type: "text", x: COL[c] + 120, y: 26.5, scaleX: 1.1, silent: true,
      style: { text: t, fill: "#000", fontSize: 33, fontWeight: "bold", fontFamily: SERIF, align: "center", verticalAlign: "middle" },
    });
  });

  return {
    animation: false,
    backgroundColor: "#fff",
    grid, xAxis, yAxis, series, graphic,
  };
}

export default function App() {
  const ref = useRef<HTMLDivElement>(null);
  useEffect(() => {
    if (!ref.current) return;
    const chart = echarts.init(ref.current, null, { renderer: "svg", width: W, height: H });
    chart.setOption(buildOption() as any);
    return () => chart.dispose();
  }, []);
  return (
    <div
      ref={ref}
      style={{ position: "absolute", left: 0, top: 0, width: W, height: H, background: "#fff" }}
    />
  );
}
